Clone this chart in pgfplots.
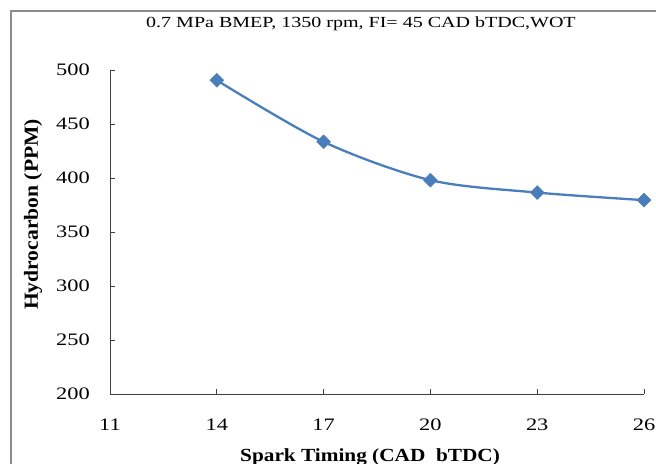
\documentclass[border=0pt]{standalone}
\usepackage{fontspec}
\setmainfont{Liberation Serif}
\newfontfamily\tickfont[FakeStretch=1.28]{Liberation Serif}
\newfontfamily\titlefont[FakeStretch=1.3]{Liberation Serif}
\newfontfamily\xlabfont[FakeStretch=1.15]{Liberation Serif}
\newfontfamily\ylabfont[FakeStretch=1.08]{Liberation Serif}
\usepackage{pgfplots}
\pgfplotsset{compat=1.18}
\definecolor{lineblue}{HTML}{4A7EBB}
\definecolor{axisgray}{HTML}{404040}
\definecolor{framegray}{HTML}{8C8C8C}
\begin{document}
\begin{tikzpicture}[x=1bp,y=1bp]
\path[use as bounding box] (0,0) rectangle (656,464);
\draw[color=framegray, line width=1.5bp] (11,0) -- (11,453) -- (656,453);
\begin{axis}[
  at={(110bp,70bp)}, anchor=south west,
  scale only axis, width=534bp, height=324bp,
  xmin=11, xmax=26, ymin=200, ymax=500,
  xtick={11,14,17,20,23,26},
  ytick={200,250,300,350,400,450,500},
  axis lines=left,
  axis line style={-, draw=axisgray, line width=0.9bp},
  tick align=inside,
  major tick length=5bp,
  tick style={draw=axisgray, line width=0.9bp},
  /pgf/number format/assume math mode=true,
  ticklabel style={font=\fontsize{17.5bp}{19bp}\tickfont, text=black},
  xticklabel style={anchor=base, inner sep=0pt, yshift=-36.5bp},
  yticklabel style={anchor=east, inner sep=0pt, xshift=-20bp},
  title={0.7 MPa BMEP, 1350 rpm, FI= 45 CAD bTDC,WOT},
  title style={font=\fontsize{15.4bp}{17bp}\titlefont, at={(axis description cs:0.470,1.114)}, anchor=base, inner sep=0pt},
  xlabel={Spark Timing (CAD\ \ bTDC)},
  xlabel style={font=\fontsize{18.5bp}{20bp}\xlabfont\bfseries, at={(axis description cs:0.487,-0.2068)}, anchor=base, inner sep=0pt},
  ylabel={Hydrocarbon (PPM)},
  ylabel style={font=\fontsize{20bp}{22bp}\ylabfont\bfseries, at={(axis description cs:-0.1442,0.554)}, anchor=center, inner sep=0pt},
  clip=false,
]
\addplot[color=lineblue, line width=2.3bp, smooth,
  mark=square*, mark size=4.9bp, mark options={rotate=45, fill=lineblue, draw=lineblue, line width=0.5bp}]
  coordinates {(14,490.5) (17,433.5) (20,398) (23,386.5) (26,379.5)};
\end{axis}
\end{tikzpicture}
\end{document}
